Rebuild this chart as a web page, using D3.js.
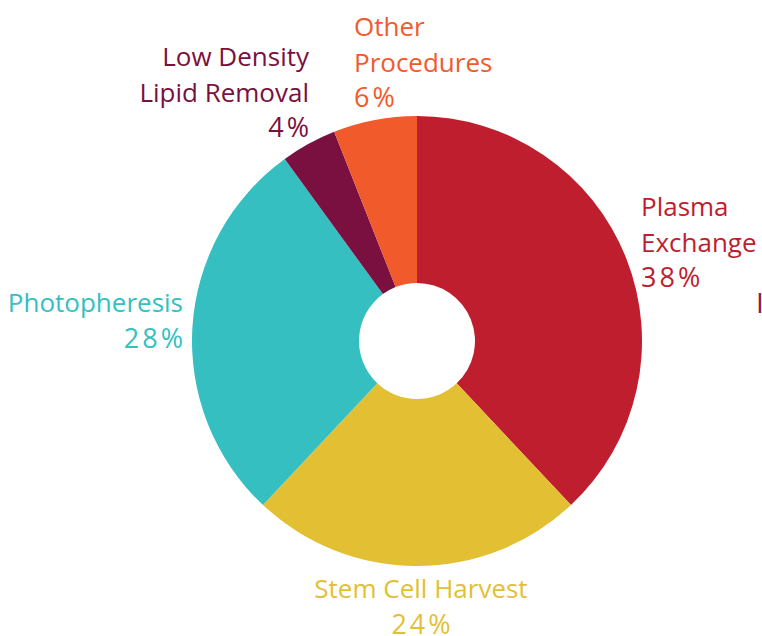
<!DOCTYPE html>
<html>
<head>
<meta charset="utf-8">
<script src="https://cdn.jsdelivr.net/npm/d3@7"></script>
<style>
  html, body { margin: 0; padding: 0; background: #fff; overflow: hidden; }
  svg text { font-family: "Open Sans", "Noto Sans", sans-serif; }
</style>
</head>
<body>
<div id="chart"></div>
<script>
// data
const categories = ["Plasma Exchange", "Stem Cell Harvest", "Photopheresis", "Low Density Lipid Removal", "Other Procedures"];
const shares = [38, 24, 28, 4, 6];
const colors = ["#be1e2d", "#e3bf34", "#35bfc1", "#7a1040", "#f15a2b"];
const labelLines = [
    ["Plasma", "Exchange"],
    ["Stem Cell Harvest"],
    ["Photopheresis"],
    ["Low Density", "Lipid Removal"],
    ["Other", "Procedures"]
];

const width = 762, height = 636;
const cx = 417, cy = 341;
const outerR = 225, innerR = 58;

const svg = d3.select("#chart").append("svg")
    .attr("width", width)
    .attr("height", height);

const pie = d3.pie().sort(null).value(d => d);
const arc = d3.arc().innerRadius(innerR).outerRadius(outerR);

const g = svg.append("g").attr("transform", `translate(${cx},${cy})`);

g.selectAll("path")
    .data(pie(shares))
    .join("path")
    .attr("fill", (d, i) => colors[i])
    .attr("d", arc);

// label placement (hand placed like the original)
const labelPos = [
    { x: 641, y: 216, anchor: "start" },
    { x: 421, y: 598, anchor: "middle" },
    { x: 183, y: 312, anchor: "end" },
    { x: 309, y: 66, anchor: "end" },
    { x: 354, y: 36, anchor: "start" }
];
const lineH = 35.5;

categories.forEach((c, i) => {
    const p = labelPos[i];
    const t = svg.append("text")
        .attr("y", p.y)
        .attr("text-anchor", p.anchor)
        .attr("fill", colors[i])
        .style("font-size", "26px");
    labelLines[i].forEach((l, j) => {
        t.append("tspan")
            .attr("x", p.x)
            .attr("dy", j === 0 ? 0 : lineH)
            .text(l);
    });
    // percentage line, a bit wider like the original face
    const pctX = p.anchor === "end" ? p.x + 3 : (p.anchor === "middle" ? p.x + 1.5 : p.x);
    t.append("tspan")
        .attr("x", pctX)
        .attr("dy", lineH)
        .style("font-size", "27px")
        .style("letter-spacing", "3px")
        .text(shares[i] + "%");
});

// clipped piece of a further label at the right edge
svg.append("text")
    .attr("x", 756)
    .attr("y", 313)
    .attr("fill", "#8b1a4b")
    .style("font-size", "28px")
    .text("I");
</script>
</body>
</html>
